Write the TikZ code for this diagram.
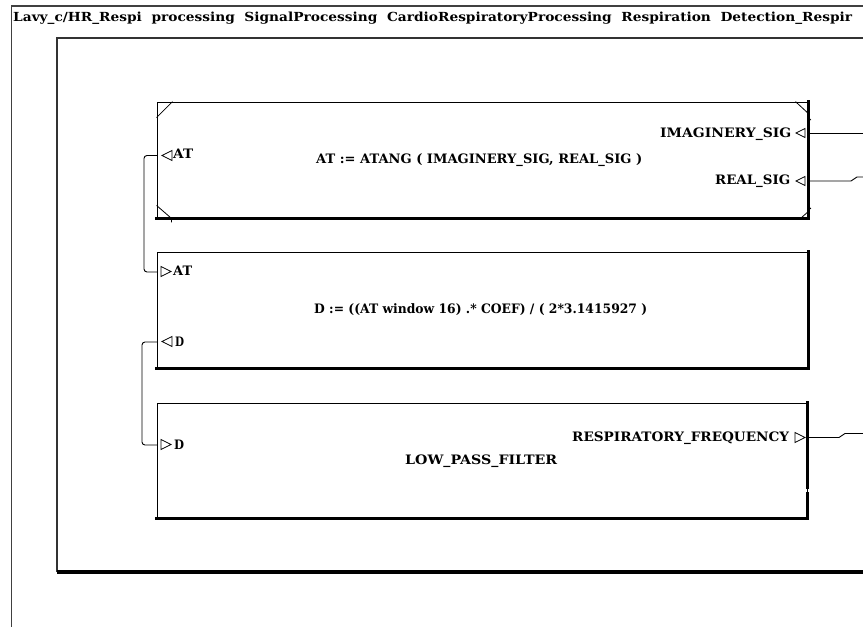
\documentclass[tikz,border=0pt]{standalone}
\usepackage{fontspec}
\setmainfont{DejaVu Serif}
\usepackage{graphicx}
\newcommand{\fitw}[2]{\resizebox{#1}{\height}{\bfseries #2}}
\tikzset{
  lbl/.style={anchor=base west, inner sep=0pt, font=\fontsize{13}{15}\selectfont},
  ttl/.style={anchor=base west, inner sep=0pt, font=\fontsize{12.5}{15}\selectfont},
  blk/.style={draw=black, line width=0.9pt, inner sep=0pt},
  shade/.style={line width=2.6pt, line cap=rect},
  port/.style={draw=black, line width=0.8pt, fill=white, line join=miter},
  wire/.style={draw=black, line width=0.9pt, rounded corners=3pt},
  deco/.style={draw=black, line width=0.8pt},
  frame/.style={draw=black!75, line width=1.3pt}
}
\begin{document}
\begin{tikzpicture}[x=1pt,y=-1pt]
\useasboundingbox (0,0) rectangle (863,627);
\clip (0,0) rectangle (863,627);
\fill[white] (0,0) rectangle (863,627);

% outer frame
\draw[frame] (11.5,630) -- (11.5,6) -- (870,6);
\node[ttl] (title) at (13,21) {\fitw{839pt}{Lavy\_c/HR\_Respi\ \ processing\ \ SignalProcessing\ \ CardioRespiratoryProcessing\ \ Respiration\ \ Detection\_Respir}};

% inner frame
\draw[draw=black!80, line width=1.6pt] (870,38) -- (57,38) -- (57,572);
\draw[draw=black!45, line width=4.6pt] (57,572) -- (870,572);
\draw[draw=black, line width=3.2pt] (57,572) -- (870,572);

% boxes
\node[blk, minimum width=651pt, minimum height=116pt] (b1) at (482.5,160) {};
\node[blk, minimum width=651pt, minimum height=116pt] (b2) at (482.5,310) {};
\node[blk, minimum width=650pt, minimum height=115pt] (b3) at (482,460.5) {};
\draw[shade] (b1.north east) -- (b1.south east) -- (b1.south west);
\draw[shade] (b2.north east) -- (b2.south east) -- (b2.south west);
\draw[shade] (b3.north east) -- ([yshift=31pt]b3.south east);
\draw[shade] ([yshift=25pt]b3.south east) -- (b3.south east) -- (b3.south west);

% corner marks of box 1
\draw[deco] ([yshift=-16pt]b1.north west) -- ([xshift=16pt]b1.north west);
\draw[deco] ([yshift=13pt]b1.south west) -- ([xshift=15pt]b1.south west) -- ++(0,4);
\draw[deco] ([xshift=-13pt]b1.north east) -- ([yshift=-12pt]b1.north east);
\draw[deco] ([xshift=-8pt]b1.south east) -- ([yshift=7pt]b1.south east);
\draw[deco] ([yshift=-16pt]b1.north east) -- ++(2.5,2.5);
\draw[deco] ([yshift=12pt]b1.south east) -- ++(2.5,2.5);

% box 1 texts
\node[lbl] (f1) at (316,163) {\fitw{326pt}{AT := ATANG ( IMAGINERY\_SIG, REAL\_SIG )}};
\node[lbl] (p1at) at (173,158) {\fitw{20pt}{AT}};
\node[lbl] (p1im) at (660,137) {\fitw{131pt}{IMAGINERY\_SIG}};
\node[lbl] (p1re) at (715,184) {\fitw{75pt}{REAL\_SIG}};
\draw[port] (162,155.5) -- (172,150.5) -- (172,160.5) -- cycle;
\draw[port] (796,133) -- (805,128.5) -- (805,137.5) -- cycle;
\draw[port] (796,181) -- (805,176.5) -- (805,185.5) -- cycle;

% box 2 texts
\node[lbl] (f2) at (314,313) {\fitw{333pt}{D := ((AT window 16) .* COEF) / ( 2*3.1415927 )}};
\node[lbl] (p2at) at (173,275) {\fitw{19pt}{AT}};
\node[lbl] (p2d) at (175,346) {\fitw{9pt}{D}};
\draw[port] (161,266.5) -- (171,271.5) -- (161,276.5) -- cycle;
\draw[port] (162,341.5) -- (172,336.5) -- (172,346.5) -- cycle;

% box 3 texts
\node[lbl] (f3) at (405,464) {\fitw{152pt}{LOW\_PASS\_FILTER}};
\node[lbl] (p3d) at (174,449) {\fitw{10pt}{D}};
\node[lbl] (p3rf) at (572,441) {\fitw{217pt}{RESPIRATORY\_FREQUENCY}};
\draw[port] (161,439.5) -- (171,444.5) -- (161,449.5) -- cycle;
\draw[port] (795,432.5) -- (805,437.5) -- (795,442.5) -- cycle;

% port coordinates
\coordinate (c1at) at (157,155.5);
\coordinate (c2at) at (157,272);
\coordinate (c2d) at (157,342);
\coordinate (c3d) at (157,445);
\coordinate (c1im) at (808,133);
\coordinate (c1re) at (808,181);
\coordinate (c3rf) at (808,437.5);
\coordinate (eim) at (870,133);
\coordinate (ere) at (870,177);
\coordinate (erf) at (870,433.5);

% connectors
\draw[wire] (c1at) -- (144,155.5) -- (144,272) -- (c2at);
\draw[wire] (c2d) -- (142,342) -- (142,445) -- (c3d);
\draw[wire] (c1im) -- (eim);
\draw[draw=black, line width=0.9pt] (c1re) -- (851,181) -- (857,177) -- (ere);
\draw[draw=black, line width=0.9pt] (c3rf) -- (839,437.5) -- (845,433.5) -- (erf);
\end{tikzpicture}
\end{document}
